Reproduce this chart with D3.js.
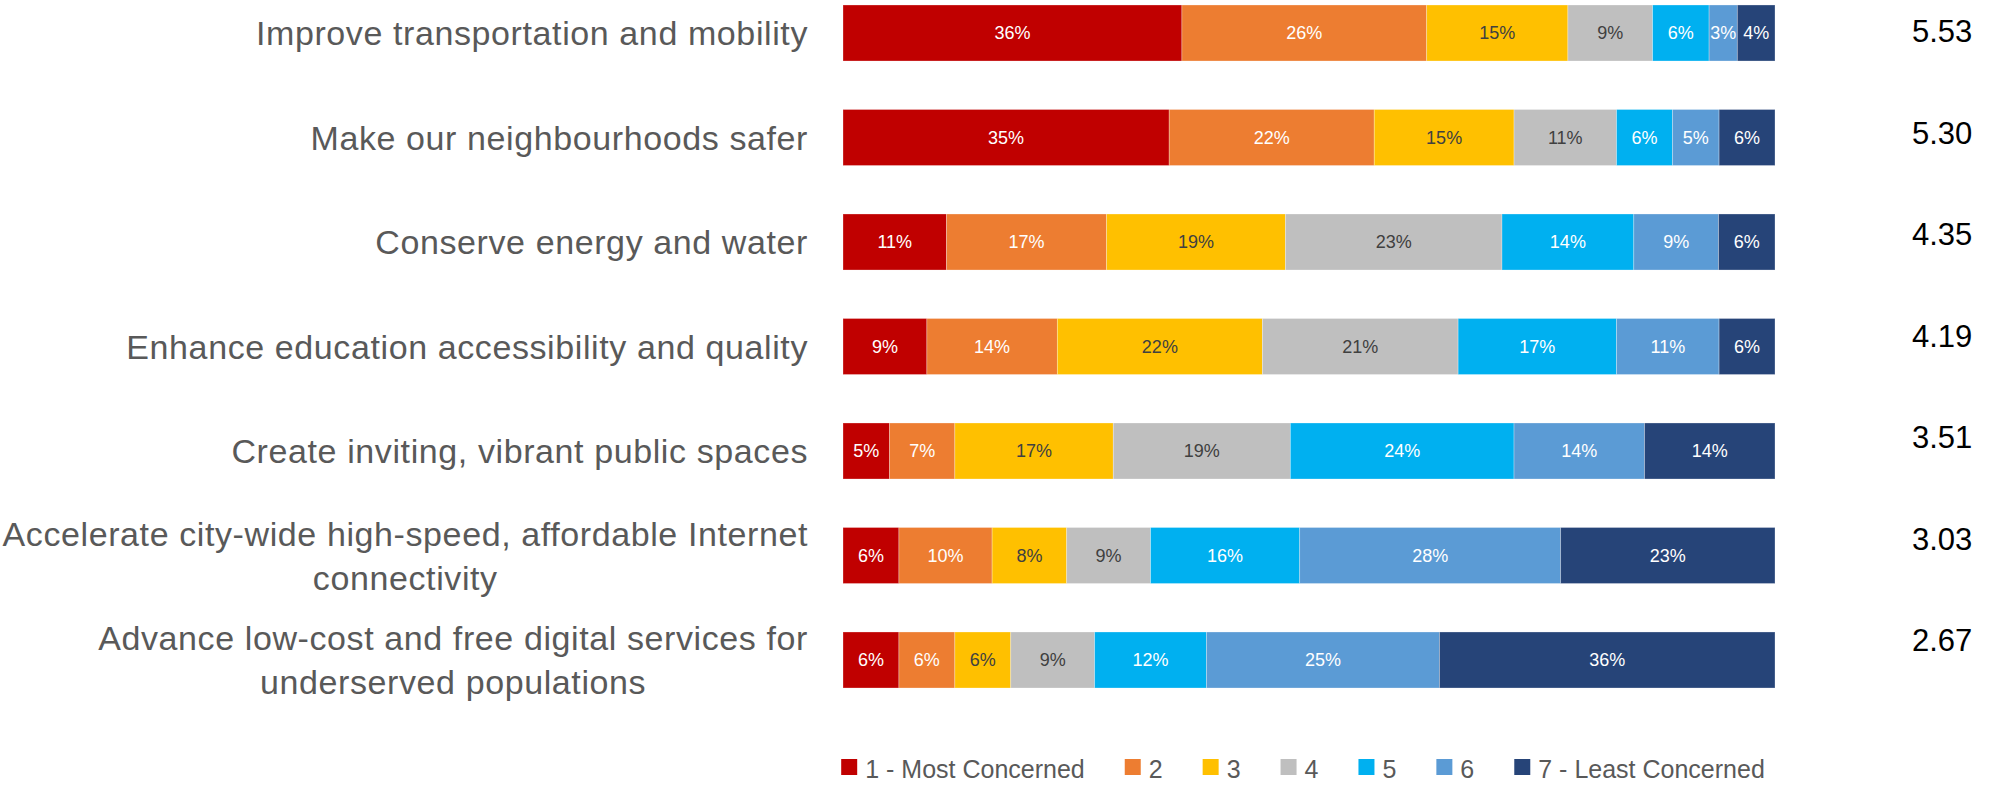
<!DOCTYPE html>
<html>
<head>
<meta charset="utf-8">
<script src="https://cdnjs.cloudflare.com/ajax/libs/d3/7.8.5/d3.min.js"></script>
<style>
    body { margin: 0; background: #fff; }
    svg { display: block; font-family: "Liberation Sans", Arial, sans-serif; }
</style>
</head>
<body>
<div id="chart"></div>
<script>
// Chart data
var categories = [
    "Improve transportation and mobility",
    "Make our neighbourhoods safer",
    "Conserve energy and water",
    "Enhance education accessibility and quality",
    "Create inviting, vibrant public spaces",
    "Accelerate city-wide high-speed, affordable Internet\nconnectivity",
    "Advance low-cost and free digital services for\nunderserved populations"
];
var levels = ["1 - Most Concerned", "2", "3", "4", "5", "6", "7 - Least Concerned"];

// percent of respondents per rating, one array per rating
var level1 = [36, 35, 11, 9, 5, 6, 6];
var level2 = [26, 22, 17, 14, 7, 10, 6];
var level3 = [15, 15, 19, 22, 17, 8, 6];
var level4 = [9, 11, 23, 21, 19, 9, 9];
var level5 = [6, 6, 14, 17, 24, 16, 12];
var level6 = [3, 5, 9, 11, 14, 28, 25];
var level7 = [4, 6, 6, 6, 14, 23, 36];

var avgScores = [5.53, 5.30, 4.35, 4.19, 3.51, 3.03, 2.67];

var levelColors = ["#C00000", "#ED7D31", "#FFC000", "#BFBFBF", "#00B0F0", "#5B9BD5", "#264478"];
var labelColors = ["#fff", "#fff", "#404040", "#404040", "#fff", "#fff", "#fff"];

// Chart params
var svgWidth = 1990;
var svgHeight = 785;

var svg = d3.select("#chart")
    .append("svg")
    .attr("width", svgWidth)
    .attr("height", svgHeight);

var seriesData = [level1, level2, level3, level4, level5, level6, level7];

var rows = categories.map(function(c, i) {
    var row = { category: c };
    levels.forEach(function(l, j) { row[l] = seriesData[j][i]; });
    return row;
});

var stack = d3.stack()
    .keys(levels)
    .offset(d3.stackOffsetExpand);
var stacked = stack(rows);

var x = d3.scaleLinear()
    .domain([0, 1])
    .range([843, 1775]);

var y = d3.scaleBand()
    .domain(categories)
    .range([-19.25, 712.25])
    .paddingInner(0.464)
    .paddingOuter(0.232);

// score column sits on its own rhythm
var yScore = d3.scalePoint()
    .domain(categories)
    .range([31, 640]);

// bars
var layers = svg.append("g")
    .selectAll("g")
    .data(stacked)
    .enter()
    .append("g")
    .attr("fill", (d, i) => levelColors[i]);

layers.selectAll("rect")
    .data(d => d)
    .enter()
    .append("rect")
    .attr("x", d => x(d[0]))
    .attr("y", d => y(d.data.category))
    .attr("width", d => x(d[1]) - x(d[0]))
    .attr("height", y.bandwidth())
    .attr("stroke", "#fff")
    .attr("stroke-opacity", 0.35)
    .attr("stroke-width", 0.8);

// percent labels
layers.each(function(layer, i) {
    d3.select(this).selectAll("text")
        .data(layer)
        .enter()
        .append("text")
        .attr("x", d => (x(d[0]) + x(d[1])) / 2)
        .attr("y", d => y(d.data.category) + y.bandwidth() / 2)
        .attr("dy", "0.36em")
        .attr("text-anchor", "middle")
        .attr("font-size", "18px")
        .attr("fill", labelColors[i])
        .text(d => d.data[layer.key] + "%");
});

// category labels, right aligned, wrapped ones centred as a block
var labelRight = 808;
var lineGap = 44;
var catLabels = svg.append("g")
    .selectAll("text")
    .data(categories)
    .enter()
    .append("text")
    .attr("font-size", "34px")
    .attr("letter-spacing", "0.6px")
    .attr("fill", "#595959");

catLabels.each(function(c) {
    var lines = c.split("\n");
    var t = d3.select(this);
    var cy = y(c) + y.bandwidth() / 2;
    var spans = lines.map(function(line, k) {
        return t.append("tspan")
            .attr("y", cy + (k - (lines.length - 1) / 2) * lineGap)
            .attr("dy", "0.36em")
            .text(line);
    });
    if (lines.length === 1) {
        t.attr("text-anchor", "end");
        spans[0].attr("x", labelRight);
    } else {
        var w = d3.max(spans, s => s.node().getComputedTextLength());
        t.attr("text-anchor", "middle");
        spans.forEach(s => s.attr("x", labelRight - w / 2));
    }
});

// average score column
svg.append("g")
    .selectAll("text")
    .data(categories)
    .enter()
    .append("text")
    .attr("x", 1912)
    .attr("y", d => yScore(d))
    .attr("dy", "0.36em")
    .attr("font-size", "31px")
    .attr("fill", "#000")
    .text((d, i) => d3.format(".2f")(avgScores[i]));

// legend
var legend = svg.append("g");
var legX = 0;
levels.forEach(function(l, i) {
    var g = legend.append("g").attr("transform", `translate(${legX}, 0)`);
    g.append("rect")
        .attr("x", 0)
        .attr("y", 759)
        .attr("width", 16)
        .attr("height", 16)
        .attr("fill", levelColors[i]);
    var txt = g.append("text")
        .attr("x", 24)
        .attr("y", 769)
        .attr("dy", "0.36em")
        .attr("font-size", "25px")
        .attr("fill", "#595959")
        .text(l);
    legX += 24 + txt.node().getComputedTextLength() + 40;
});
var legWidth = legX - 40;
legend.attr("transform", `translate(${1303 - legWidth / 2}, 0)`);
</script>
</body>
</html>
